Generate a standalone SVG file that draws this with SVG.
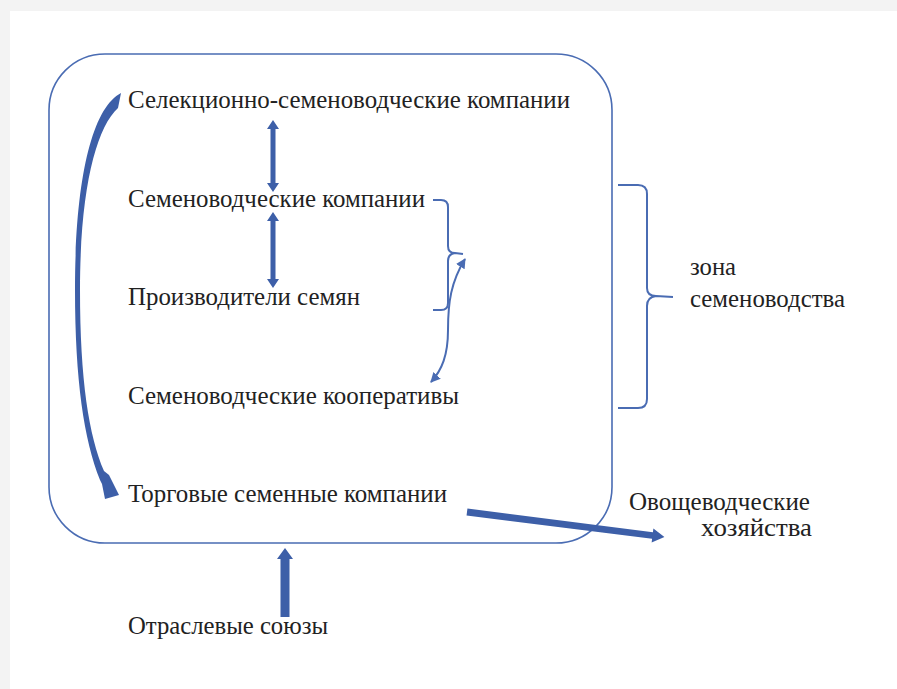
<svg xmlns="http://www.w3.org/2000/svg" width="897" height="689" viewBox="0 0 897 689">
<defs>
<style>
text{font-family:'Liberation Serif','Times New Roman',serif;font-size:25px;fill:#222}
.box{fill:none;stroke:#4a6cb3;stroke-width:1.6}
.br{fill:none;stroke:#4a6cb3;stroke-width:2}
.ar{fill:#3d5fa8}
.thin{fill:none;stroke:#4a6cb3;stroke-width:2}
</style>
<marker id="ah" viewBox="0 0 10 10" refX="9" refY="5" markerWidth="5" markerHeight="5" orient="auto-start-reverse">
<path d="M0,0 L10,5 L0,10 Z" fill="#4a6cb3"/>
</marker>
</defs>
<rect x="0" y="0" width="897" height="689" fill="#f3f3f3"/>
<rect x="10" y="11" width="887" height="678" fill="#ffffff"/>

<g id="zone">
<rect class="box" x="49" y="54" width="563" height="489" rx="56" ry="56"/>
</g>

<g id="n1"><text x="128" y="108" textLength="442" lengthAdjust="spacingAndGlyphs">Селекционно-семеноводческие компании</text></g>
<g id="n2"><text x="128" y="207" textLength="297" lengthAdjust="spacingAndGlyphs">Семеноводческие компании</text></g>
<g id="n3"><text x="128" y="305" textLength="232" lengthAdjust="spacingAndGlyphs">Производители семян</text></g>
<g id="n4"><text x="128" y="404" textLength="331" lengthAdjust="spacingAndGlyphs">Семеноводческие кооперативы</text></g>
<g id="n5"><text x="128" y="502" textLength="319" lengthAdjust="spacingAndGlyphs">Торговые семенные компании</text></g>
<g id="n6"><text x="128" y="634" textLength="200" lengthAdjust="spacingAndGlyphs">Отраслевые союзы</text></g>
<g id="n7"><text x="690" y="275" textLength="46" lengthAdjust="spacingAndGlyphs">зона</text><text x="690" y="307" textLength="155" lengthAdjust="spacingAndGlyphs">семеноводства</text></g>
<g id="n8"><text x="629" y="510" textLength="181" lengthAdjust="spacingAndGlyphs">Овощеводческие</text><text x="701" y="536" textLength="111" lengthAdjust="spacingAndGlyphs">хозяйства</text></g>

<g id="braces">
<path class="br" d="M433,200 L441,200 Q448,200 448,207 L448,246 Q448,253 455,253 L463,254 M455,253 Q448,254 448,261 L448,303 Q448,310 441,310 L433,310"/>
<path class="br" d="M618,185 L638,185 Q647,185 647,194 L647,288 Q647,296 656,296 L673,297 M656,296 Q647,297 647,306 L647,399 Q647,408 638,408 L618,408"/>
</g>

<g id="connectors">
<polygon class="ar" points="273,120 279,129 275.5,129 275.5,183 279,183 273,192 267,183 270.5,183 270.5,129 267,129"/>
<polygon class="ar" points="273,212 279,221 275.5,221 275.5,279 279,279 273,288 267,279 270.5,279 270.5,221 267,221"/>
<polygon class="ar" points="285,548 293,559 289.5,559 289.5,617 280.5,617 280.5,559 277,559"/>
<polygon class="ar" transform="translate(467,512) rotate(7.23)" points="0,-3.5 187,-3.2 187,-7 199,0 187,7 187,3.2 0,3.5"/>
<path class="ar" d="M121,93 C92,108 75,180 75,290 C75,380 84,440 100,480 L102,484 L105,499 L119,495 L109,475 L104,471 C89,436 80,380 80,290 C80,190 96,128 118,108 Z"/>
<path class="thin" d="M465,259 C451,282 448,302 448,330 C448,355 442,370 431,382" marker-start="url(#ah)" marker-end="url(#ah)"/>
</g>
</svg>
